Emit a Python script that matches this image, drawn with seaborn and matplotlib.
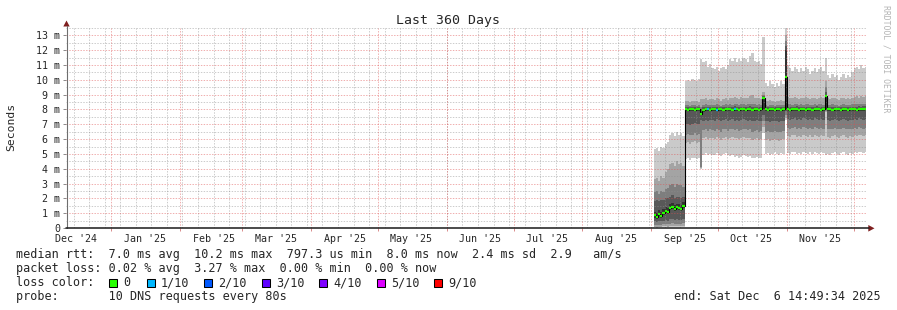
import numpy as np
import pandas as pd
import matplotlib
matplotlib.use("Agg")
import matplotlib.pyplot as plt
import matplotlib.dates as mdates
from matplotlib.patches import Rectangle, Polygon
from matplotlib.lines import Line2D
import seaborn as sns

sns.set_style("white")
plt.rcParams["font.family"] = ["DejaVu Sans Mono", "DejaVu Sans"]

W, H = 897, 310

# ---------------- data (values in milliseconds) ----------------
end_time = pd.Timestamp("2025-12-06 14:49:34")
span_days = 360
first_day = "2025-09-02"          # first daily column with data

median = [0.85, 0.75, 0.95, 0.80, 1.00, 1.15, 1.10, 1.35, 1.45, 1.30, 1.40, 1.35, 1.30, 1.50,
          8.00, 7.98, 8.00, 8.02, 7.97, 8.00, 8.02,
          7.70,
          7.95, 8.00, 8.02, 7.98,
          8.00, 8.03, 7.98, 8.00, 8.02, 7.97, 8.00, 8.02,
          8.00, 7.98, 8.03, 8.00, 7.97, 8.02, 8.00, 7.98, 8.02, 8.00, 7.98,
          8.00, 8.02, 7.98, 8.00,
          8.80,
          8.00, 7.98, 8.02, 8.00, 7.97, 8.00, 8.03, 7.98, 8.00,
          10.20,
          8.00, 7.98, 8.02, 8.00, 8.03, 7.98, 8.00, 8.02, 7.97, 8.00, 8.02, 7.98, 8.00, 8.03, 8.00, 7.98, 8.00,
          8.90,
          8.00, 8.02, 7.98, 8.00, 8.03, 8.00, 7.97, 8.02, 8.00, 7.98, 8.00, 8.02,
          8.00, 7.98, 8.02, 8.00, 8.03, 8.05]

p10 = [5.3, 5.4, 5.2, 5.5, 5.4, 5.7, 5.8, 6.3, 6.4, 6.2, 6.5, 6.3, 6.4, 6.2,
       9.9, 10.0, 9.95, 10.05, 10.0, 9.9, 10.05,
       11.4,
       11.2, 11.3, 10.9, 11.1,
       10.8, 10.7, 10.9, 10.6, 10.8, 10.9, 10.7, 11.0,
       11.4, 11.3, 11.5, 11.2, 11.4, 11.3, 11.5, 11.4, 11.2, 11.6, 11.8,
       11.3, 11.2, 11.3, 11.1,
       12.9,
       9.8, 9.6, 9.9, 9.7, 9.5, 9.8, 9.6, 9.9, 9.7,
       13.6,
       11.0, 10.8, 10.6, 10.9, 10.7, 10.5, 10.8, 10.6, 10.9, 10.7, 10.4, 10.6, 10.8, 10.5, 10.7, 10.9, 10.6,
       11.5,
       10.3, 10.1, 10.4, 10.2, 10.3, 10.0, 10.2, 10.4, 10.1, 10.3, 10.2, 10.5,
       10.8, 10.9, 10.7, 11.0, 10.8, 10.9]

p9 = [3.3, 3.4, 3.2, 3.5, 3.4, 3.8, 4.0, 4.3, 4.4, 4.2, 4.5, 4.3, 4.4, 4.2,
      8.55, 8.6, 8.5, 8.6, 8.55, 8.6, 8.5,
      8.7,
      8.7, 8.75, 8.65, 8.7,
      8.7, 8.65, 8.75, 8.7, 8.6, 8.7, 8.75, 8.65,
      8.8, 8.75, 8.85, 8.8, 8.7, 8.85, 8.8, 8.75, 8.8, 8.9, 8.95,
      8.8, 8.75, 8.8, 8.7,
      9.2,
      8.6, 8.55, 8.65, 8.6, 8.5, 8.6, 8.55, 8.65, 8.6,
      13.0,
      8.85, 8.8, 8.75, 8.85, 8.8, 8.7, 8.8, 8.75, 8.85, 8.8, 8.7, 8.75, 8.8, 8.7, 8.8, 8.85, 8.75,
      9.9,
      8.75, 8.7, 8.8, 8.75, 8.7, 8.65, 8.75, 8.8, 8.7, 8.75, 8.7, 8.8,
      8.85, 8.9, 8.8, 8.9, 8.85, 8.9]

p8 = [2.4, 2.5, 2.3, 2.5, 2.4, 2.6, 2.7, 2.9, 3.0, 2.8, 3.0, 2.9, 2.9, 2.8,
      8.3, 8.3, 8.25, 8.3, 8.3, 8.25, 8.3,
      8.2,
      8.3, 8.35, 8.3, 8.3,
      8.3, 8.3, 8.35, 8.3, 8.25, 8.3, 8.35, 8.3,
      8.35, 8.3, 8.35, 8.35, 8.3, 8.35, 8.35, 8.3, 8.35, 8.4, 8.4,
      8.35, 8.3, 8.35, 8.3,
      9.0,
      8.3, 8.25, 8.3, 8.3, 8.25, 8.3, 8.3, 8.3, 8.3,
      12.6,
      8.35, 8.35, 8.3, 8.35, 8.35, 8.3, 8.35, 8.3, 8.35, 8.35, 8.3, 8.3, 8.35, 8.3, 8.35, 8.35, 8.3,
      9.5,
      8.3, 8.3, 8.35, 8.3, 8.3, 8.25, 8.3, 8.35, 8.3, 8.3, 8.3, 8.35,
      8.35, 8.4, 8.35, 8.4, 8.35, 8.4]

p7 = [1.8, 1.9, 1.8, 1.9, 1.9, 2.0, 2.0, 2.1, 2.2, 2.0, 2.1, 2.1, 2.0, 2.1,
      8.18, 8.15, 8.18, 8.2, 8.15, 8.18, 8.2,
      8.0,
      8.15, 8.2, 8.2, 8.15,
      8.18, 8.2, 8.15, 8.18, 8.2, 8.15, 8.18, 8.2,
      8.2, 8.18, 8.22, 8.2, 8.15, 8.2, 8.18, 8.15, 8.2, 8.22, 8.2,
      8.18, 8.2, 8.15, 8.18,
      8.9,
      8.18, 8.15, 8.2, 8.18, 8.15, 8.18, 8.2, 8.15, 8.18,
      12.3,
      8.2, 8.18, 8.2, 8.18, 8.22, 8.15, 8.18, 8.2, 8.15, 8.18, 8.2, 8.15, 8.18, 8.22, 8.18, 8.15, 8.18,
      9.2,
      8.18, 8.2, 8.15, 8.18, 8.2, 8.18, 8.15, 8.2, 8.18, 8.15, 8.18, 8.2,
      8.2, 8.18, 8.22, 8.2, 8.22, 8.25]

p6 = [1.10, 1.00, 1.20, 1.05, 1.25, 1.40, 1.35, 1.60, 1.70, 1.55, 1.65, 1.60, 1.55, 1.75,
      8.08, 8.06, 8.08, 8.1, 8.05, 8.08, 8.1,
      7.85,
      8.05, 8.08, 8.1, 8.06,
      8.08, 8.1, 8.06, 8.08, 8.1, 8.05, 8.08, 8.1,
      8.08, 8.06, 8.1, 8.08, 8.05, 8.1, 8.08, 8.06, 8.1, 8.08, 8.06,
      8.08, 8.1, 8.06, 8.08,
      8.8,
      8.08, 8.06, 8.1, 8.08, 8.05, 8.08, 8.1, 8.06, 8.08,
      12.0,
      8.08, 8.06, 8.1, 8.08, 8.1, 8.06, 8.08, 8.1, 8.05, 8.08, 8.1, 8.06, 8.08, 8.1, 8.08, 8.06, 8.08,
      8.9,
      8.08, 8.1, 8.06, 8.08, 8.1, 8.08, 8.05, 8.1, 8.08, 8.06, 8.08, 8.1,
      8.08, 8.06, 8.1, 8.08, 8.1, 8.12]

p5 = [0.70, 0.60, 0.80, 0.65, 0.85, 1.00, 0.95, 1.20, 1.30, 1.15, 1.25, 1.20, 1.15, 1.35,
      7.9, 7.88, 7.9, 7.92, 7.87, 7.9, 7.92,
      7.6,
      7.85, 7.9, 7.92, 7.88,
      7.9, 7.93, 7.88, 7.9, 7.92, 7.87, 7.9, 7.92,
      7.9, 7.88, 7.93, 7.9, 7.87, 7.92, 7.9, 7.88, 7.92, 7.9, 7.88,
      7.9, 7.92, 7.88, 7.9,
      8.0,
      7.9, 7.88, 7.92, 7.9, 7.87, 7.9, 7.93, 7.88, 7.9,
      8.0,
      7.9, 7.88, 7.92, 7.9, 7.93, 7.88, 7.9, 7.92, 7.87, 7.9, 7.92, 7.88, 7.9, 7.93, 7.9, 7.88, 7.9,
      8.0,
      7.9, 7.92, 7.88, 7.9, 7.93, 7.9, 7.87, 7.92, 7.9, 7.88, 7.9, 7.92,
      7.9, 7.88, 7.92, 7.9, 7.93, 7.95]

p4 = [0.45, 0.40, 0.50, 0.45, 0.50, 0.55, 0.50, 0.60, 0.60, 0.55, 0.60, 0.55, 0.55, 0.60,
      7.0, 7.05, 6.95, 7.0, 7.1, 7.0, 7.05,
      7.3,
      7.25, 7.3, 7.2, 7.3,
      7.3, 7.25, 7.35, 7.3, 7.2, 7.3, 7.35, 7.25,
      7.3, 7.35, 7.25, 7.3, 7.2, 7.3, 7.35, 7.3, 7.25, 7.3, 7.2,
      7.25, 7.3, 7.2, 7.25,
      7.6,
      7.2, 7.25, 7.15, 7.2, 7.25, 7.2, 7.15, 7.2, 7.25,
      7.9,
      7.35, 7.3, 7.35, 7.4, 7.3, 7.35, 7.3, 7.4, 7.35, 7.3, 7.35, 7.3, 7.4, 7.35, 7.3, 7.35, 7.3,
      7.95,
      7.3, 7.25, 7.3, 7.35, 7.3, 7.25, 7.3, 7.35, 7.3, 7.25, 7.3, 7.3,
      7.35, 7.3, 7.4, 7.35, 7.3, 7.35]

p3 = [0.20, 0.18, 0.22, 0.20, 0.25, 0.28, 0.25, 0.30, 0.32, 0.28, 0.30, 0.30, 0.28, 0.32,
      6.3, 6.35, 6.25, 6.3, 6.4, 6.3, 6.35,
      4.1,
      6.6, 6.7, 6.55, 6.65,
      6.6, 6.55, 6.7, 6.6, 6.5, 6.65, 6.7, 6.55,
      6.65, 6.7, 6.6, 6.65, 6.55, 6.6, 6.7, 6.65, 6.6, 6.65, 6.5,
      6.55, 6.6, 6.5, 6.55,
      7.2,
      6.5, 6.55, 6.45, 6.5, 6.55, 6.5, 6.45, 6.5, 6.55,
      7.6,
      6.75, 6.7, 6.75, 6.8, 6.7, 6.75, 6.7, 6.8, 6.75, 6.7, 6.75, 6.7, 6.8, 6.75, 6.7, 6.75, 6.7,
      7.9,
      6.7, 6.65, 6.7, 6.75, 6.7, 6.65, 6.7, 6.75, 6.7, 6.65, 6.7, 6.7,
      6.75, 6.7, 6.8, 6.75, 6.7, 6.75]

p2 = [0.10, 0.08, 0.10, 0.10, 0.12, 0.12, 0.10, 0.14, 0.15, 0.12, 0.14, 0.13, 0.12, 0.15,
      5.75, 5.8, 5.7, 5.8, 5.85, 5.75, 5.8,
      4.05,
      6.05, 6.15, 6.0, 6.1,
      6.05, 6.0, 6.15, 6.05, 5.95, 6.1, 6.15, 6.0,
      6.1, 6.15, 6.05, 6.1, 6.0, 6.05, 6.15, 6.1, 6.05, 6.1, 5.95,
      6.0, 6.05, 5.95, 6.0,
      6.8,
      5.95, 6.0, 5.9, 5.95, 6.0, 5.95, 5.9, 5.95, 6.0,
      7.4,
      6.2, 6.15, 6.25, 6.3, 6.15, 6.2, 6.15, 6.3, 6.2, 6.15, 6.25, 6.15, 6.3, 6.2, 6.15, 6.25, 6.2,
      7.85,
      6.15, 6.1, 6.2, 6.25, 6.15, 6.1, 6.2, 6.25, 6.15, 6.1, 6.2, 6.15,
      6.25, 6.2, 6.3, 6.25, 6.2, 6.25]

p1 = [0.04, 0.03, 0.04, 0.04, 0.05, 0.05, 0.04, 0.06, 0.06, 0.05, 0.06, 0.05, 0.05, 0.06,
      4.65, 4.7, 4.6, 4.7, 4.75, 4.65, 4.7,
      4.0,
      4.95, 5.05, 4.9, 5.0,
      4.95, 4.9, 5.05, 4.95, 4.85, 5.0, 5.05, 4.9,
      4.85, 4.9, 4.8, 4.85, 4.75, 4.8, 4.9, 4.85, 4.8, 4.85, 4.7,
      4.75, 4.8, 4.7, 4.75,
      6.4,
      5.0, 5.05, 4.95, 5.0, 5.1, 5.0, 4.95, 5.05, 5.0,
      7.3,
      5.05, 5.0, 5.1, 5.15, 5.0, 5.05, 5.0, 5.15, 5.05, 5.0, 5.1, 5.0, 5.15, 5.05, 5.0, 5.1, 5.05,
      4.9,
      5.0, 4.95, 5.05, 5.1, 5.0, 4.95, 5.05, 5.1, 5.0, 4.95, 5.05, 5.0,
      5.1, 5.05, 5.15, 5.1, 5.05, 5.1]

loss_days = ["2025-09-26", "2025-09-30", "2025-10-08"]
loss_levels = [1, 1, 1]

loss_keys = [0, 1, 2, 3, 4, 5, 9]
loss_labels = ["0", "1/10", "2/10", "3/10", "4/10", "5/10", "9/10"]
loss_hex = ["#26ff00", "#00b8ff", "#0059ff", "#5e00ff", "#7e00ff", "#dd00ff", "#ff0000"]

y_ticks = list(range(14))
y_tick_labels = ["0"] + [f"{i} m" for i in range(1, 14)]

title = "Last 360 Days"
y_title = "Seconds"
watermark = "RRDTOOL / TOBI OETIKER"
legend_rtt = "median rtt:  7.0 ms avg  10.2 ms max  797.3 us min  8.0 ms now  2.4 ms sd  2.9   am/s"
legend_loss = "packet loss: 0.02 % avg  3.27 % max  0.00 % min  0.00 % now"
legend_color_title = "loss color:"
legend_probe = "probe:       10 DNS requests every 80s"
legend_end = "end: Sat Dec  6 14:49:34 2025"

# ---------------- figure ----------------
start_time = end_time - pd.Timedelta(days=span_days)
fig = plt.figure(figsize=(W / 100, H / 100), dpi=100)
fig.patch.set_facecolor("white")
ax = fig.add_axes([66 / W, 1 - 228 / H, 800 / W, 200 / H])
ax.set_facecolor("white")
for s in ax.spines.values():
    s.set_visible(False)

x0n, x1n = mdates.date2num(start_time), mdates.date2num(end_time)
ax.set_xlim(x0n, x1n)
ax.set_ylim(0, 13.5)

days = pd.date_range(first_day, periods=len(median), freq="D")
edges = np.append(mdates.date2num(days), x1n)


def ext(v):
    v = np.asarray(v, float)
    return np.append(v, v[-1])


ranks = [p1, p2, p3, p4, p5, p6, p7, p8, p9, p10]
grays = ["#cacaca", "#a4a4a4", "#7e7e7e", "#585858", "#323232"]
for i in range(5):
    ax.fill_between(edges, ext(ranks[i]), ext(ranks[9 - i]), step="post",
                    color=grays[i], lw=0, zorder=2)

# grid
weeks = pd.date_range(start_time.normalize(), end_time, freq="W-SUN")
months = pd.date_range(start_time.normalize() - pd.offsets.MonthBegin(1), end_time, freq="MS")
month_lines = [m for m in months if m >= start_time]
minor_col = (0.56, 0.56, 0.56, 0.45)
major_col = (0.87, 0.31, 0.31, 0.45)
dots = (0, (1.4, 1.4))
ax.vlines(mdates.date2num(weeks), 0, 13.5, colors=[minor_col], linestyles=dots, lw=0.72, zorder=3)
ax.hlines(np.arange(0.5, 13.6, 1.0), x0n, x1n, colors=[minor_col], linestyles=dots, lw=0.72, zorder=3)
ax.hlines(np.arange(1, 14, 1.0), x0n, x1n, colors=[major_col], linestyles=dots, lw=0.72, zorder=3)
ax.vlines(mdates.date2num(month_lines), 0, 13.5, colors=[major_col], linestyles=dots, lw=0.72, zorder=3)

# median band coloured by loss
loss = np.zeros(len(median), int)
for d, l in zip(loss_days, loss_levels):
    loss[days.get_loc(pd.Timestamp(d))] = l
color_of = dict(zip(loss_keys, loss_hex))
sns.lineplot(x=edges, y=ext(median), drawstyle="steps-post", color="black", lw=0.8,
             ax=ax, zorder=4)
ax.hlines(median, edges[:-1], edges[1:], colors=[color_of[l] for l in loss], lw=1.6, zorder=5)

# ticks
label_pos = [m + pd.Timedelta(days=15) for m in months]
keep = [(p, m) for p, m in zip(label_pos, months) if start_time <= p <= end_time]
ax.set_xticks(mdates.date2num([p for p, _ in keep]), [m.strftime("%b '%y") for _, m in keep])
ax.set_xticks(mdates.date2num(month_lines), minor=True)
ax.tick_params(axis="x", which="major", bottom=True, length=0, pad=4.6, labelsize=7.2)
ax.tick_params(axis="x", which="minor", bottom=True, length=2.2, width=0.7, color="#d98a8a")
ax.set_yticks(y_ticks, y_tick_labels)
ax.tick_params(axis="y", which="major", left=True, length=2.0, width=0.7, color="#8a8a8a",
               pad=2.2, labelsize=7.2)
ax.set_xlabel("")
ax.set_ylabel("")

# axis lines and arrows
fig.add_artist(Line2D([66.5 / W, 66.5 / W], [1 - 228 / H, 1 - 26 / H], color="#6e6e6e", lw=0.8))
fig.add_artist(Line2D([66 / W, 868.5 / W], [1 - 228.3 / H, 1 - 228.3 / H], color="#1a1a1a", lw=1.1))
arrow_col = "#7f1f1f"
fig.add_artist(Polygon([[66.5 / W, 1 - 20.5 / H], [63.3 / W, 1 - 26.5 / H], [69.7 / W, 1 - 26.5 / H]],
                       closed=True, color=arrow_col, lw=0))
fig.add_artist(Polygon([[874.5 / W, 1 - 228.3 / H], [868.3 / W, 1 - 225.0 / H], [868.3 / W, 1 - 231.6 / H]],
                       closed=True, color=arrow_col, lw=0))

# texts
fig.text(448 / W, 1 - 24 / H, title, ha="center", va="baseline", fontsize=9.5)
fig.text(11 / W, 1 - 127 / H, y_title, rotation=90, ha="center", va="center", fontsize=8.2)
fig.text(886 / W, 1 - 59 / H, watermark, rotation=270, ha="center", va="center",
         fontsize=5.9, color="#b4b4b4")

fs = 8.5
fig.text(16 / W, 1 - 258.3 / H, legend_rtt, ha="left", va="baseline", fontsize=fs)
fig.text(16 / W, 1 - 272.3 / H, legend_loss, ha="left", va="baseline", fontsize=fs)
fig.text(16 / W, 1 - 286.2 / H, legend_color_title, ha="left", va="baseline", fontsize=fs)
fig.text(16 / W, 1 - 300.2 / H, legend_probe, ha="left", va="baseline", fontsize=fs)
fig.text(881 / W, 1 - 300.2 / H, legend_end, ha="right", va="baseline", fontsize=fs)

box_x = [109, 147, 204, 262, 319, 377, 434]
for bx, lab, col in zip(box_x, loss_labels, loss_hex):
    fig.add_artist(Rectangle((bx / W, 1 - 286.5 / H), 7.5 / W, 7.5 / H, facecolor=col,
                             edgecolor="black", lw=0.75, transform=fig.transFigure))
    fig.text((bx + 14) / W, 1 - 286.2 / H, lab, ha="left", va="baseline", fontsize=fs)

fig.savefig("out.png", dpi=100, facecolor="white")
